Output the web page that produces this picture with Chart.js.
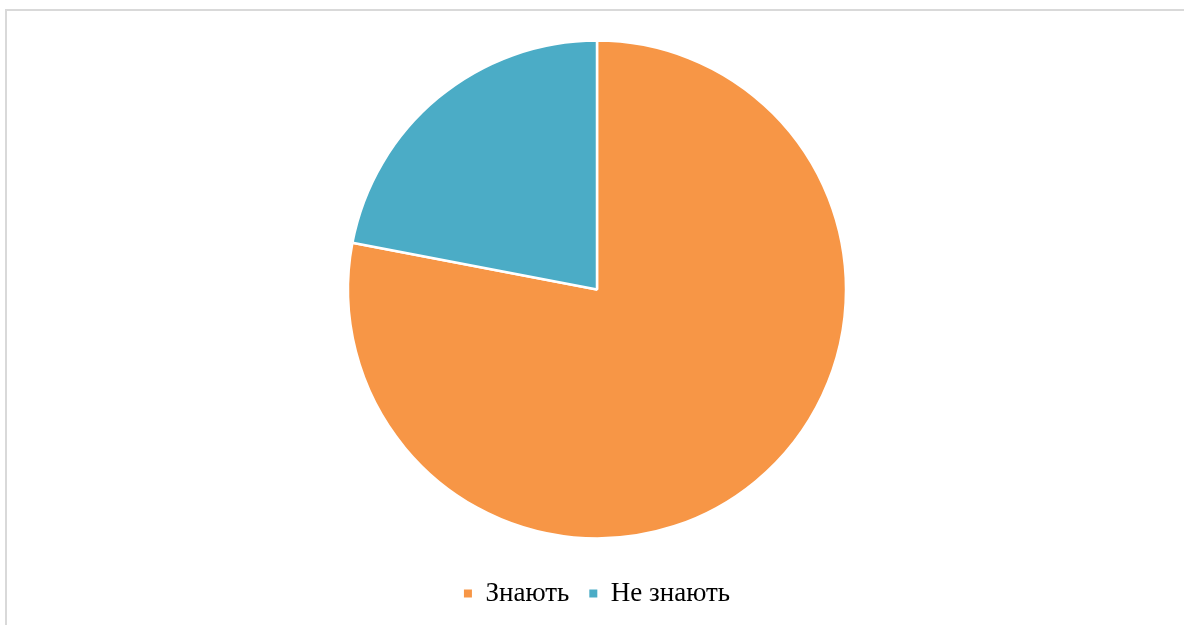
<!DOCTYPE html>
<html>
<head>
<meta charset="utf-8">
<script src="https://cdn.jsdelivr.net/npm/chart.js@4/dist/chart.umd.min.js"></script>
<style>
  html, body { margin: 0; padding: 0; background: #fff; }
  .frame {
    position: absolute; left: 5px; top: 9px; right: -10px; bottom: -10px;
    border-left: 2px solid #d9d9d9; border-top: 2px solid #d9d9d9;
  }
  .wrap { position: absolute; left: 0; top: 0; width: 1184px; height: 625px; }
</style>
</head>
<body>
<div class="frame"></div>
<div class="wrap"><canvas id="pie"></canvas></div>
<script>
  // data
  var categories = ["Знають", "Не знають"];
  var shares = [78, 22];
  var colours = ["#F79646", "#4BACC6"];

  var baseLabels = Chart.overrides.pie.plugins.legend.labels.generateLabels;

  new Chart(document.getElementById("pie").getContext("2d"), {
    type: "pie",
    data: {
      labels: categories,
      datasets: [{
        data: shares,
        backgroundColor: colours,
        borderColor: "#ffffff",
        borderWidth: 2.5,
        radius: 249
      }]
    },
    options: {
      responsive: true,
      maintainAspectRatio: false,
      animation: false,
      layout: { padding: { top: 19, left: 10, right: 0, bottom: 8 } },
      plugins: {
        tooltip: { enabled: false },
        legend: {
          position: "bottom",
          labels: {
            color: "#000",
            boxWidth: 8,
            boxHeight: 8,
            padding: 20,
            font: { family: "'Liberation Serif', 'Times New Roman', serif", size: 27 },
            generateLabels: function (chart) {
              // plain filled squares, no white outline
              return baseLabels(chart).map(function (item) {
                item.lineWidth = 0;
                return item;
              });
            }
          }
        }
      }
    }
  });
</script>
</body>
</html>
